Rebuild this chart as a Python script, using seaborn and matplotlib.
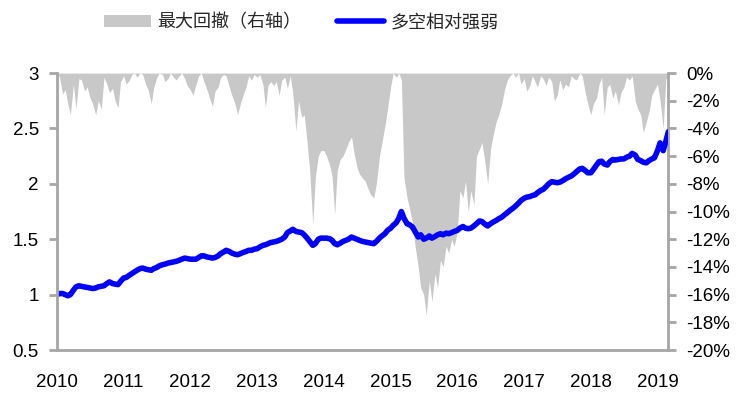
import matplotlib
matplotlib.use("Agg")
import matplotlib.pyplot as plt
import matplotlib.dates as mdates
from matplotlib.lines import Line2D
from matplotlib.patches import Patch
from matplotlib.ticker import FuncFormatter, MultipleLocator
import pandas as pd
import seaborn as sns

# semi-monthly observations, 2010-01-01 .. 2019-03-01
dates = pd.date_range("2010-01-01", "2019-03-01", freq="SMS")

strength = [
    # 2010
    1.00, 1.01, 1.01, 1.00, 0.99, 1.00, 1.04, 1.07, 1.08, 1.075, 1.07, 1.065,
    1.06, 1.055, 1.06, 1.07, 1.075, 1.08, 1.10, 1.115, 1.10, 1.095, 1.09, 1.12,
    # 2011
    1.15, 1.155, 1.175, 1.19, 1.205, 1.22, 1.235, 1.24, 1.23, 1.225, 1.22, 1.235,
    1.245, 1.26, 1.27, 1.275, 1.285, 1.29, 1.295, 1.30, 1.31, 1.32, 1.33, 1.325,
    # 2012
    1.32, 1.32, 1.32, 1.335, 1.35, 1.35, 1.34, 1.335, 1.33, 1.335, 1.35, 1.37,
    1.385, 1.40, 1.39, 1.375, 1.365, 1.36, 1.37, 1.38, 1.39, 1.40, 1.40, 1.41,
    # 2013
    1.415, 1.43, 1.445, 1.45, 1.46, 1.47, 1.475, 1.48, 1.49, 1.50, 1.52, 1.56,
    1.575, 1.59, 1.57, 1.565, 1.56, 1.54, 1.51, 1.48, 1.445, 1.46, 1.50, 1.51,
    # 2014
    1.51, 1.51, 1.505, 1.49, 1.46, 1.45, 1.465, 1.48, 1.49, 1.50, 1.52, 1.51,
    1.50, 1.49, 1.48, 1.475, 1.47, 1.465, 1.46, 1.48, 1.51, 1.53, 1.55, 1.58,
    # 2015
    1.60, 1.625, 1.65, 1.69, 1.75, 1.69, 1.64, 1.63, 1.61, 1.57, 1.52, 1.54,
    1.50, 1.51, 1.53, 1.51, 1.525, 1.54, 1.55, 1.54, 1.555, 1.55, 1.56, 1.57,
    # 2016
    1.58, 1.60, 1.615, 1.60, 1.595, 1.60, 1.62, 1.64, 1.665, 1.66, 1.635, 1.62,
    1.64, 1.655, 1.67, 1.685, 1.70, 1.72, 1.74, 1.76, 1.78, 1.80, 1.825, 1.85,
    # 2017
    1.87, 1.88, 1.885, 1.895, 1.90, 1.92, 1.94, 1.95, 1.975, 2.00, 2.02, 2.015,
    2.01, 2.015, 2.03, 2.045, 2.06, 2.07, 2.09, 2.11, 2.135, 2.14, 2.12, 2.10,
    # 2018
    2.10, 2.13, 2.17, 2.20, 2.205, 2.18, 2.17, 2.20, 2.22, 2.215, 2.22, 2.225,
    2.225, 2.24, 2.25, 2.275, 2.26, 2.22, 2.21, 2.195, 2.19, 2.21, 2.225, 2.235,
    # 2019
    2.30, 2.37, 2.30, 2.38, 2.47,
]

drawdown_pct = [
    # 2010
    0.0, -0.3, -1.5, -1.2, -2.2, -3.0, -0.8, -2.6, -0.4, -0.5, -1.3, -1.0,
    -1.8, -2.2, -3.0, -2.0, -2.6, -0.3, -0.8, -1.4, -1.1, -2.0, -2.5, -0.6,
    # 2011
    -0.2, -0.8, -0.5, -0.1, 0.0, -0.3, 0.0, -0.1, -0.8, -1.2, -2.2, -1.0,
    -0.3, 0.0, -0.1, -0.6, -0.4, 0.0, -0.3, -0.5, -0.2, 0.0, -0.4, -0.9,
    # 2012
    -1.2, -1.6, -0.8, -0.2, 0.0, -0.6, -1.2, -1.8, -2.4, -1.3, -1.0, -0.3,
    -0.1, -0.2, -1.0, -1.6, -2.2, -3.0, -2.2, -1.6, -1.0, -0.2, -0.5, -0.1,
    # 2013
    -0.3, -0.1, -0.8, -2.5, -0.9, -0.6, -0.9, -0.6, -1.6, -0.5, -0.3, -1.1,
    -0.2, -1.5, -4.2, -2.0, -3.2, -3.0, -5.0, -7.0, -10.9, -7.5, -6.0, -5.6,
    # 2014
    -5.6, -6.0, -6.6, -7.5, -10.2, -7.0, -6.2, -6.0, -5.5, -5.0, -4.6, -5.8,
    -6.8, -7.3, -7.6, -7.8, -8.4, -8.8, -9.0, -8.0, -6.0, -5.0, -3.8, -2.6,
    # 2015
    -1.0, 0.0, -0.3, 0.0, -0.5, -7.5, -9.0, -9.8, -10.8, -12.5, -14.0, -15.5,
    -16.0, -17.5, -15.0, -16.5, -14.5, -15.5, -13.5, -14.0, -12.5, -13.0, -12.0, -12.5,
    # 2016
    -11.5, -8.5, -9.0, -7.8, -10.0, -8.5, -9.5, -6.0, -5.5, -5.0, -6.5, -8.0,
    -5.5, -4.5, -3.5, -3.0, -2.2, -1.2, -0.5, -0.2, 0.0, -0.3, 0.0, -0.8,
    # 2017
    -0.4, -1.3, -0.9, -0.2, -0.6, -1.0, -0.2, -0.4, -0.9, -0.3, -0.6, -2.0,
    -1.6, -0.5, -1.2, -0.8, -1.0, -0.2, -0.4, -0.5, 0.0, -0.2, -1.4, -2.2,
    # 2018
    -3.0, -2.2, -1.8, -0.8, -0.3, -3.0, -1.0, -0.8, -1.8, -1.3, -2.3, -1.4,
    -1.0, -0.3, -0.5, -0.2, -2.0, -2.6, -3.0, -4.3, -3.5, -2.8, -1.6, -1.2,
    # 2019
    -0.8, -2.0, -4.0, -0.5, 0.0,
]

label_dd = "最大回撤（右轴）"
label_ls = "多空相对强弱"

df = pd.DataFrame({"date": dates, "strength": strength, "drawdown": drawdown_pct})

sns.set_style("white")
plt.rcParams["font.family"] = ["Liberation Sans", "Noto Sans CJK SC", "DejaVu Sans"]

spine_color = "#a6a6a6"
fig = plt.figure(figsize=(7.41, 3.99), dpi=100)
ax = fig.add_axes([0.0769, 0.1228, 0.825, 0.694])
ax2 = ax.twinx()

# drawdown on the right axis, behind the line
ax2.fill_between(df["date"], df["drawdown"], 0, color="#c8c8c8", linewidth=0)
ax2.set_ylim(-20, 0)
ax2.yaxis.set_major_locator(MultipleLocator(2))
ax2.yaxis.set_major_formatter(FuncFormatter(lambda v, _: f"{v:.0f}%"))

sns.lineplot(data=df, x="date", y="strength", ax=ax, color="#0000ff", linewidth=4)
ax.set_zorder(ax2.get_zorder() + 1)
ax.patch.set_visible(False)
ax.set_ylim(0.5, 3)
ax.yaxis.set_major_locator(MultipleLocator(0.5))
ax.yaxis.set_major_formatter(FuncFormatter(lambda v, _: f"{v:g}"))
ax.set_xlim(df["date"].iloc[0], df["date"].iloc[-1])
ax.xaxis.set_major_locator(mdates.YearLocator())
ax.xaxis.set_major_formatter(mdates.DateFormatter("%Y"))
ax.set_xlabel("")
ax.set_ylabel("")

for a in (ax, ax2):
    a.spines["top"].set_visible(False)
    for side in ("left", "right", "bottom"):
        a.spines[side].set_color(spine_color)
        a.spines[side].set_linewidth(2)
    a.tick_params(length=6, width=2, color=spine_color, labelsize=13.5,
                  labelcolor="black", direction="out", pad=7)
ax.spines["right"].set_visible(False)
ax2.spines["left"].set_visible(False)
ax2.spines["bottom"].set_visible(False)
ax.tick_params(axis="x", pad=11)

handles = [Patch(facecolor="#c8c8c8", edgecolor="none"),
           Line2D([], [], color="#0000ff", linewidth=4)]
fig.legend(handles, [label_dd, label_ls], loc="center left",
           bbox_to_anchor=(0.118, 0.944), ncol=2, frameon=False,
           prop={"family": ["Noto Sans CJK SC"], "size": 13},
           handlelength=2.6, handletextpad=0.35, columnspacing=2.0)

fig.savefig("out.png", dpi=100)
